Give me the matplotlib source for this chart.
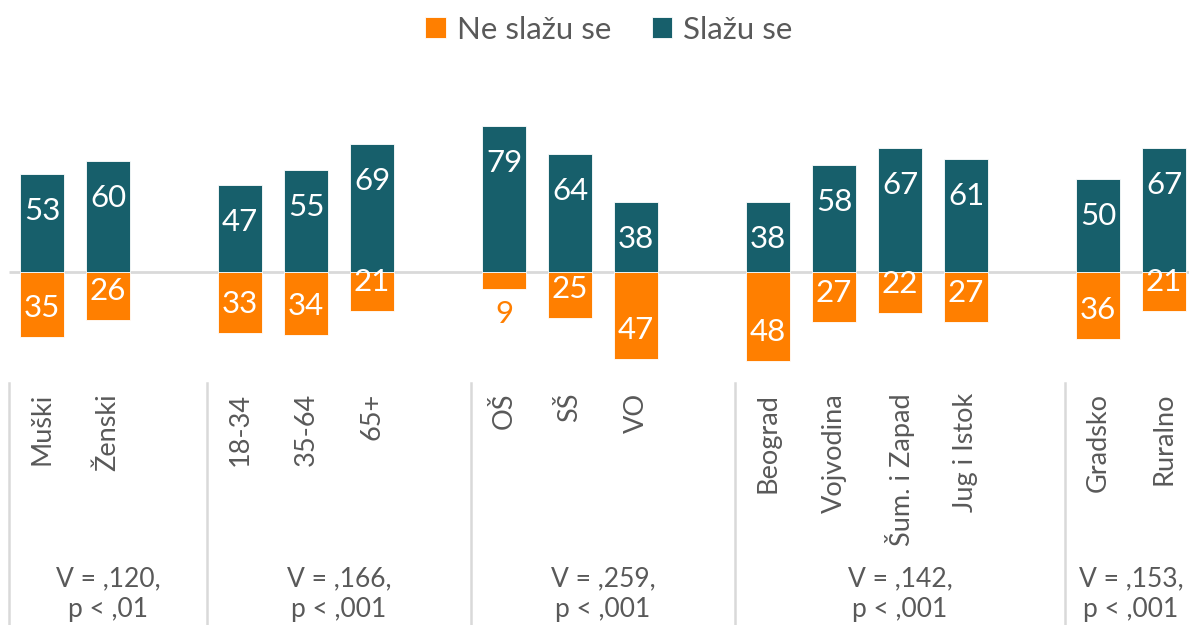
import matplotlib
matplotlib.use("Agg")
import matplotlib.pyplot as plt

categories = ["Muški", "Ženski", "18-34", "35-64", "65+", "OŠ", "SŠ", "VO",
              "Beograd", "Vojvodina", "Šum. i Zapad", "Jug i Istok", "Gradsko", "Ruralno"]
group_sizes = [2, 3, 3, 4, 2]
ne_slazu = [35, 26, 33, 34, 21, 9, 25, 47, 48, 27, 22, 27, 36, 21]
slazu = [53, 60, 47, 55, 69, 79, 64, 38, 38, 58, 67, 61, 50, 67]
stats = ["V = ,120,\np < ,01", "V = ,166,\np < ,001", "V = ,259,\np < ,001",
         "V = ,142,\np < ,001", "V = ,153,\np < ,001"]
series_names = ["Ne slažu se", "Slažu se"]

ORANGE = "#FF7F00"
TEAL = "#175F6B"
GRAY = "#595959"
LINE = "#D9D9D9"

plt.rcParams['font.family'] = ['Lato', 'DejaVu Sans']

W, H = 1189, 625
fig = plt.figure(figsize=(W / 100, H / 100), dpi=100)
ax = fig.add_axes([0, 0, 1, 1])

# slot positions with a gap between groups
xs = []
group_bounds = []
slot = 0
for gi, n in enumerate(group_sizes):
    start = slot
    for k in range(n):
        xs.append(slot)
        slot += 1
    group_bounds.append((start - 0.5, slot - 0.5 + (1 if gi < len(group_sizes) - 1 else 0)))
    slot += 1

px_per_slot = 66.0
x0_px = 42.0
ax.set_xlim(-x0_px / px_per_slot, (W - x0_px) / px_per_slot)
scale = 1.85
zero_px = 272.0
ax.set_ylim(-(H - zero_px) / scale, zero_px / scale)
ax.axis("off")

bw = 0.67
b1 = ax.bar(xs, [-v for v in ne_slazu], width=bw, color=ORANGE, edgecolor="#ffffff",
            linewidth=0.6, label=series_names[0], zorder=2)
b2 = ax.bar(xs, slazu, width=bw, color=TEAL, edgecolor="#ffffff",
            linewidth=0.6, label=series_names[1], zorder=2)

# value labels
for x, v in zip(xs, slazu):
    ax.text(x, v - 37 / scale, str(v), ha="center", va="center",
            color="white", fontsize=22.5, zorder=3)
for x, v in zip(xs, ne_slazu):
    if v < 12:
        ax.text(x, -v - 25 / scale, str(v), ha="center", va="center",
                color=ORANGE, fontsize=22.5, zorder=3)
    else:
        ax.text(x, -v + 29 / scale, str(v), ha="center", va="center",
                color="white", fontsize=22.5, zorder=3)

# zero line
ax.plot([-0.5, 30], [0, 0], color=LINE, lw=2, zorder=1, solid_capstyle="butt")

# separators
sep_top = -(383 - zero_px) / scale
sep_bot = -(H - zero_px) / scale
seps = [-0.5] + [b[1] for b in group_bounds[:-1]]
for s in seps:
    ax.plot([s, s], [sep_top, sep_bot], color=LINE, lw=1.8, zorder=1)

# category labels
lab_y = -(393 - zero_px) / scale
for x, c in zip(xs, categories):
    ax.text(x, lab_y, c, rotation=90, ha="center", va="top", color=GRAY, fontsize=19.5)

# stats
st_y = -(594 - zero_px) / scale
for (a, b), s in zip(group_bounds, stats):
    ax.text((a + b) / 2, st_y, s, ha="center", va="center", color=GRAY,
            fontsize=19, linespacing=1.25)

leg = fig.legend(handles=[b1, b2], labels=series_names, loc="upper center",
                 bbox_to_anchor=(0.512, 1.02), ncol=2, frameon=False, fontsize=22.5,
                 handlelength=0.65, handleheight=0.65, handletextpad=0.35,
                 columnspacing=1.3, labelcolor=GRAY)

fig.savefig("out.png", dpi=100)
